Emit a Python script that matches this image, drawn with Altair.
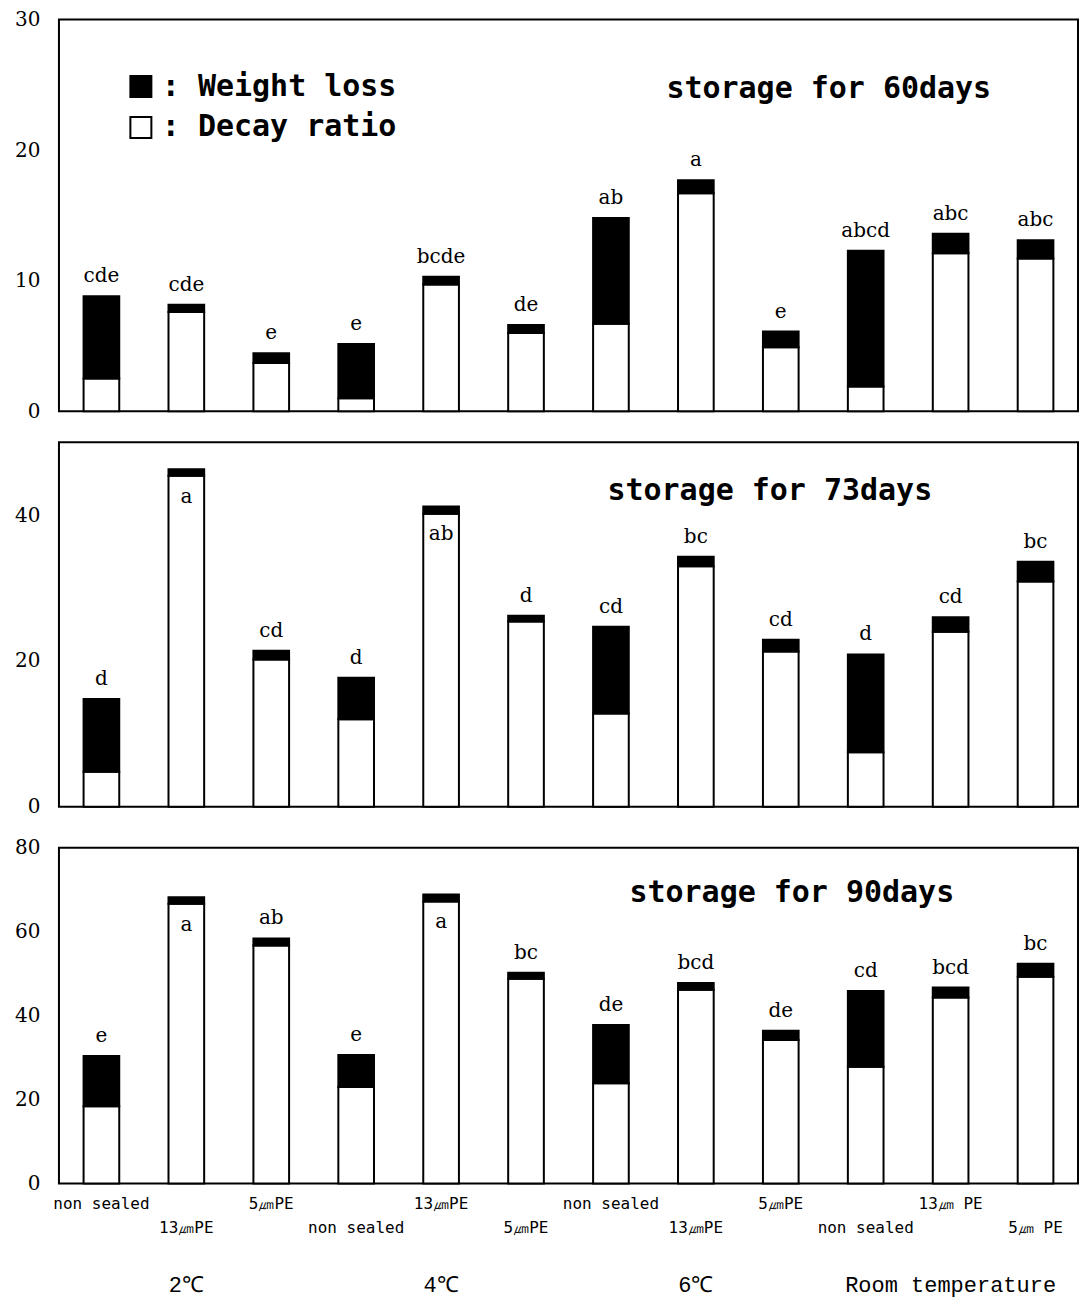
import json
import altair as alt
import pandas as pd

# ---------------- data ----------------
positions = list(range(12))
item_labels = ["non sealed", "13㎛PE", "5㎛PE",
               "non sealed", "13㎛PE", "5㎛PE",
               "non sealed", "13㎛PE", "5㎛PE",
               "non sealed", "13㎛ PE", "5㎛ PE"]
group_names = ["2℃", "4℃", "6℃", "Room temperature"]
group_pos = [1, 4, 7, 10]
series_names = ["Weight loss", "Decay ratio"]

decay_60 = [2.5, 7.6, 3.7, 1.0, 9.7, 6.0, 6.7, 16.7, 4.9, 1.9, 12.1, 11.7]
loss_60 = [6.3, 0.55, 0.75, 4.15, 0.6, 0.6, 8.1, 1.0, 1.2, 10.4, 1.5, 1.4]
letters_60 = ["cde", "cde", "e", "e", "bcde", "de", "ab", "a", "e", "abcd", "abc", "abc"]
inside_60 = [0, 0, 0, 0, 0, 0, 0, 0, 0, 0, 0, 0]

decay_73 = [4.8, 45.4, 20.2, 12.0, 40.2, 25.4, 12.8, 33.0, 21.3, 7.5, 24.0, 30.9]
loss_73 = [10.0, 0.9, 1.2, 5.7, 1.0, 0.8, 11.9, 1.3, 1.6, 13.4, 2.0, 2.7]
letters_73 = ["d", "a", "cd", "d", "ab", "d", "cd", "bc", "cd", "d", "cd", "bc"]
inside_73 = [0, 1, 0, 0, 1, 0, 0, 0, 0, 0, 0, 0]

decay_90 = [18.4, 66.7, 56.7, 23.0, 67.2, 48.8, 23.9, 46.2, 34.2, 27.8, 44.3, 49.3]
loss_90 = [12.0, 1.5, 1.7, 7.6, 1.7, 1.4, 13.9, 1.6, 2.2, 18.1, 2.4, 3.1]
letters_90 = ["e", "a", "ab", "e", "a", "bc", "de", "bcd", "de", "cd", "bcd", "bc"]
inside_90 = [0, 1, 0, 0, 1, 0, 0, 0, 0, 0, 0, 0]

# ---------------- style ----------------
W = 1020
SERIF = "DejaVu Serif"
MONO = "DejaVu Sans Mono"

xscale = alt.Scale(domain=positions, paddingInner=0.58, paddingOuter=0.29)
color_scale = alt.Scale(domain=series_names, range=["#000000", "#ffffff"])

legend = alt.Legend(
    orient="none", legendX=67, legendY=52, title=None,
    symbolType="square", symbolSize=441, symbolStrokeColor="black",
    symbolStrokeWidth=2, labelFont=MONO, labelFontSize=30,
    labelFontWeight="bold", labelColor="black", labelOffset=6,
    labelLimit=500, labelExpr="': ' + datum.label", rowPadding=11, padding=0,
)


def panel(decay, loss, letters, inside, title, ymax, ticks, height, tdx, tdy, bottom_axis):
    rows = []
    for i in positions:
        rows.append({"idx": i, "series": "Decay ratio", "y0": 0.0, "y1": decay[i]})
        rows.append({"idx": i, "series": "Weight loss", "y0": decay[i], "y1": decay[i] + loss[i]})
    bars_df = pd.DataFrame(rows)
    lab_df = pd.DataFrame({
        "idx": positions,
        "total": [decay[i] + loss[i] for i in positions],
        "letter": letters,
        "inside": inside,
    })

    if bottom_axis:
        xaxis = alt.Axis(
            labelExpr=json.dumps(item_labels, ensure_ascii=False) + "[datum.value]",
            labelPadding={"condition": {"test": "datum.value % 2 == 1", "value": 36}, "value": 12},
            ticks=False, domain=False, labelAngle=0, labelFont=MONO,
            labelFontSize=16, labelColor="black", labelOverlap=False,
            labelBaseline="top", title=None,
        )
    else:
        xaxis = None

    yaxis = alt.Axis(values=ticks, ticks=False, domain=False, grid=False,
                     labelFont=SERIF, labelFontSize=20, labelColor="black",
                     labelPadding=19, title=None)
    yscale = alt.Scale(domain=[0, ymax], nice=False)

    bars = alt.Chart(bars_df).mark_bar(stroke="black", strokeWidth=2).encode(
        x=alt.X("idx:O", scale=xscale, axis=xaxis),
        y=alt.Y("y1:Q", scale=yscale, axis=yaxis),
        y2="y0:Q",
        color=alt.Color("series:N", scale=color_scale, legend=legend),
    )
    above = alt.Chart(lab_df).transform_filter("datum.inside == 0").mark_text(
        font=SERIF, fontSize=20, color="black", baseline="middle", dy=-20
    ).encode(x=alt.X("idx:O", scale=xscale), y=alt.Y("total:Q", scale=yscale), text="letter:N")
    inner = alt.Chart(lab_df).transform_filter("datum.inside == 1").mark_text(
        font=SERIF, fontSize=20, color="black", baseline="middle", dy=28
    ).encode(x=alt.X("idx:O", scale=xscale), y=alt.Y("total:Q", scale=yscale), text="letter:N")

    return alt.layer(bars, above, inner).properties(
        width=W, height=height,
        title=alt.TitleParams(
            text=title, anchor="start", frame="group", orient="top", offset=0,
            dx=tdx, dy=tdy, font=MONO, fontSize=30, fontWeight="bold",
            baseline="middle", color="black",
        ),
    )


p1 = panel(decay_60, loss_60, letters_60, inside_60, "storage for 60days",
           30, [0, 10, 20, 30], 392, 608, 109, False)
p2 = panel(decay_73, loss_73, letters_73, inside_73, "storage for 73days",
           50, [0, 20, 40], 365, 549, 79, False)
p3 = panel(decay_90, loss_90, letters_90, inside_90, "storage for 90days",
           80, [0, 20, 40, 60, 80], 336, 571, 85, True)

groups_df = pd.DataFrame({"idx": group_pos, "name": group_names})
p4 = alt.Chart(groups_df).mark_text(
    font="Liberation Mono", fontSize=22, color="black", baseline="middle", dy=19
).encode(
    x=alt.X("idx:O", scale=xscale, axis=None),
    text="name:N",
).properties(width=W, height=20, view=alt.ViewBackground(stroke="transparent"))

chart = alt.vconcat(p1, p2, p3, p4, spacing=19).properties(
    padding={"left": 5, "top": 0, "right": 0, "bottom": 0}
).configure_view(stroke="black", strokeWidth=2).configure_axis(grid=False)

chart.save("out.html", embed_options={"renderer": "svg", "actions": False})
